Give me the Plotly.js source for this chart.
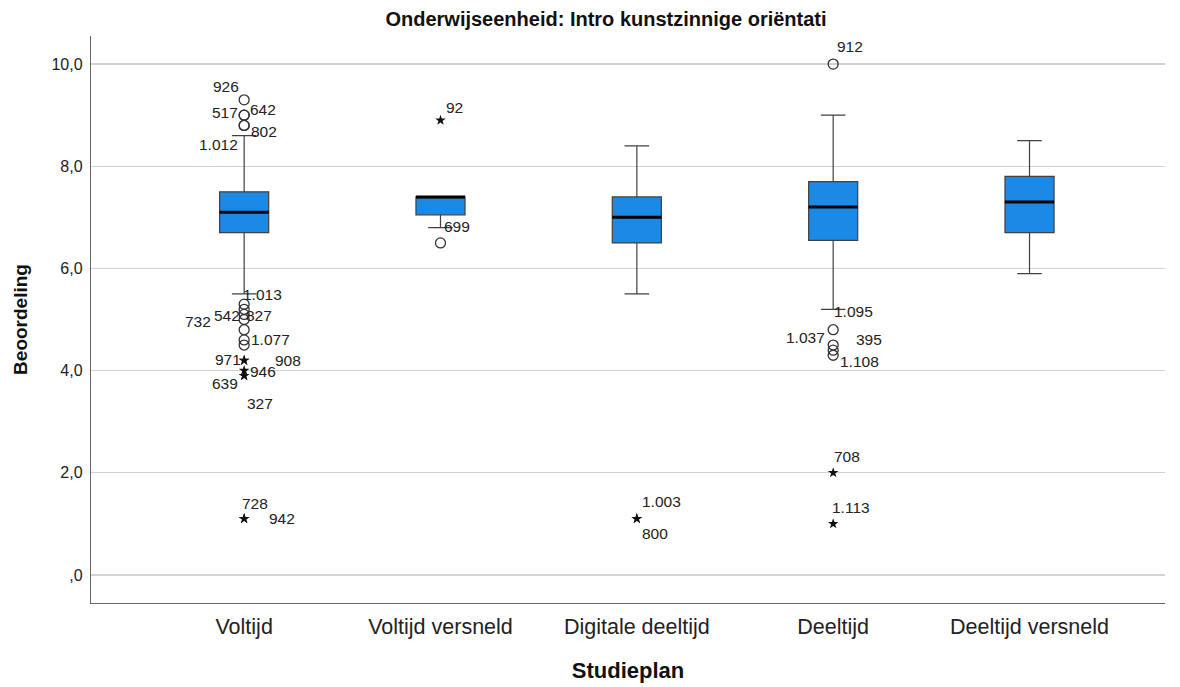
<!DOCTYPE html>
<html>
<head>
<meta charset="utf-8">
<script src="https://cdn.plot.ly/plotly-3.0.1.min.js"></script>
<style>html,body{margin:0;padding:0;background:#fff;}#chart{width:1180px;height:687px;}</style>
</head>
<body>
<div id="chart"></div>
<script>
// ---- data ----
const categories = ["Voltijd", "Voltijd versneld", "Digitale deeltijd", "Deeltijd", "Deeltijd versneld"];
const q1Values     = [6.7, 7.05, 6.5, 6.55, 6.7];
const medianValues = [7.1, 7.4, 7.0, 7.2, 7.3];
const q3Values     = [7.5, 7.4, 7.4, 7.7, 7.8];
const lowerWhisker = [5.5, 6.8, 5.5, 5.2, 5.9];
const upperWhisker = [8.6, 7.4, 8.4, 9.0, 8.5];

const outlierCategory = [
  "Voltijd","Voltijd","Voltijd","Voltijd","Voltijd",
  "Voltijd","Voltijd","Voltijd","Voltijd","Voltijd","Voltijd","Voltijd",
  "Voltijd","Voltijd","Voltijd","Voltijd","Voltijd","Voltijd","Voltijd",
  "Voltijd versneld","Voltijd versneld",
  "Digitale deeltijd","Digitale deeltijd",
  "Deeltijd","Deeltijd","Deeltijd","Deeltijd","Deeltijd","Deeltijd","Deeltijd"
];
const outlierValue = [
  9.3, 9.0, 9.0, 8.8, 8.8,
  5.3, 5.2, 5.1, 5.0, 4.8, 4.6, 4.5,
  4.2, 4.2, 4.0, 3.9, 3.9, 1.1, 1.1,
  8.9, 6.5,
  1.1, 1.1,
  10.0, 4.8, 4.5, 4.4, 4.3, 2.0, 1.0
];
const outlierLabel = [
  "926", "517", "642", "802", "1.012",
  "1.013", "542", "827", "732", "", "1.077", "",
  "971", "908", "946", "639", "327", "728", "942",
  "92", "699",
  "1.003", "800",
  "912", "1.095", "1.037", "395", "1.108", "708", "1.113"
];
// 'o' = outlier (circle), '*' = extreme (star)
const outlierKind = [
  "o","o","o","o","o",
  "o","o","o","o","o","o","o",
  "*","*","*","*","*","*","*",
  "*","o",
  "*","*",
  "o","o","o","o","o","*","*"
];

// ---- label placement (pixel offsets) ----
const labelShiftX = [
  -18, -19, 19, 20, -26,
  18, -17, 15, -46, 0, 26, 0,
  -16, 44, 19, -19, 16, 11, 38,
  14, 17,
  25, 18,
  17, 20, -28, 36, 26, 14, 18
];
const labelShiftY = [
  13, 3, 6, -6, -19,
  10, -6, -1, -2, 0, 0, 0,
  1, 0, -1, -8, -28, 15, 0,
  13, 16,
  17, -15,
  18, 18, 8, 11, -6, 16, 16
];

const BOX_W = 0.25;
const FONT = "Liberation Sans, Arial, sans-serif";

const boxTrace = {
  type: "box",
  x: categories,
  q1: q1Values,
  median: medianValues,
  q3: q3Values,
  lowerfence: lowerWhisker,
  upperfence: upperWhisker,
  boxpoints: false,
  width: BOX_W,
  whiskerwidth: 0.5,
  fillcolor: "#1a8ae6",
  line: {color: "#404040", width: 1.2},
  hoverinfo: "skip",
  showlegend: false
};

function pick(kind) {
  const xs = [], ys = [];
  outlierValue.forEach((v, i) => {
    if (outlierKind[i] === kind) { xs.push(outlierCategory[i]); ys.push(v); }
  });
  return {xs, ys};
}
const circ = pick("o"), star = pick("*");

const circleTrace = {
  type: "scatter", mode: "markers",
  x: circ.xs, y: circ.ys,
  marker: {symbol: "circle-open", size: 10, color: "#333", line: {width: 1.3, color: "#333"}},
  showlegend: false, hoverinfo: "skip"
};
const starTrace = {
  type: "scatter", mode: "markers",
  x: star.xs, y: star.ys,
  marker: {symbol: "star", size: 8, color: "#111", line: {width: 0}},
  showlegend: false, hoverinfo: "skip"
};

const annotations = outlierLabel.map((t, i) => ({
  x: outlierCategory[i], y: outlierValue[i], xref: "x", yref: "y",
  text: t, showarrow: false,
  xshift: labelShiftX[i], yshift: labelShiftY[i],
  font: {family: FONT, size: 15.5, color: "#222"}
})).filter(a => a.text !== "");

const shapes = medianValues.map((m, i) => ({
  type: "line", xref: "x", yref: "y",
  x0: i - BOX_W / 2, x1: i + BOX_W / 2, y0: m, y1: m,
  line: {color: "#000", width: 3}
}));

const yTicks = [0, 2, 4, 6, 8, 10];
const yTickText = [",0", "2,0", "4,0", "6,0", "8,0", "10,0"];

const layout = {
  width: 1180, height: 687,
  margin: {l: 91, r: 15, t: 36, b: 84},
  paper_bgcolor: "#fff", plot_bgcolor: "#fff",
  font: {family: FONT, color: "#222"},
  title: {
    text: "<b>Onderwijseenheid: Intro kunstzinnige oriëntati</b>",
    x: 606 / 1180, xref: "container", xanchor: "center",
    y: 1 - 19 / 687, yref: "container", yanchor: "middle",
    font: {family: FONT, size: 20, color: "#111"}
  },
  xaxis: {
    type: "category",
    categoryorder: "array", categoryarray: categories,
    range: [-0.78, 4.69],
    showgrid: false, zeroline: false,
    showline: true, linecolor: "#666", linewidth: 1.2,
    ticks: "outside", ticklen: 4, tickcolor: "rgba(0,0,0,0)",
    tickfont: {size: 21.5, color: "#222"},
    title: {text: "<b>Studieplan</b>", font: {size: 22, color: "#111"}, standoff: 24}
  },
  yaxis: {
    range: [-0.55, 10.55],
    tickvals: yTicks, ticktext: yTickText,
    showgrid: true, gridcolor: "#d2d2d2", gridwidth: 1.5,
    zeroline: false,
    showline: true, linecolor: "#666", linewidth: 1.2,
    ticks: "outside", ticklen: 4, tickcolor: "rgba(0,0,0,0)",
    tickfont: {size: 16, color: "#222"},
    title: {text: "<b>Beoordeling</b>", font: {size: 19, color: "#111"}, standoff: 18}
  },
  shapes: shapes,
  annotations: annotations
};

Plotly.newPlot("chart", [boxTrace, circleTrace, starTrace], layout, {staticPlot: true, displayModeBar: false});
</script>
</body>
</html>
